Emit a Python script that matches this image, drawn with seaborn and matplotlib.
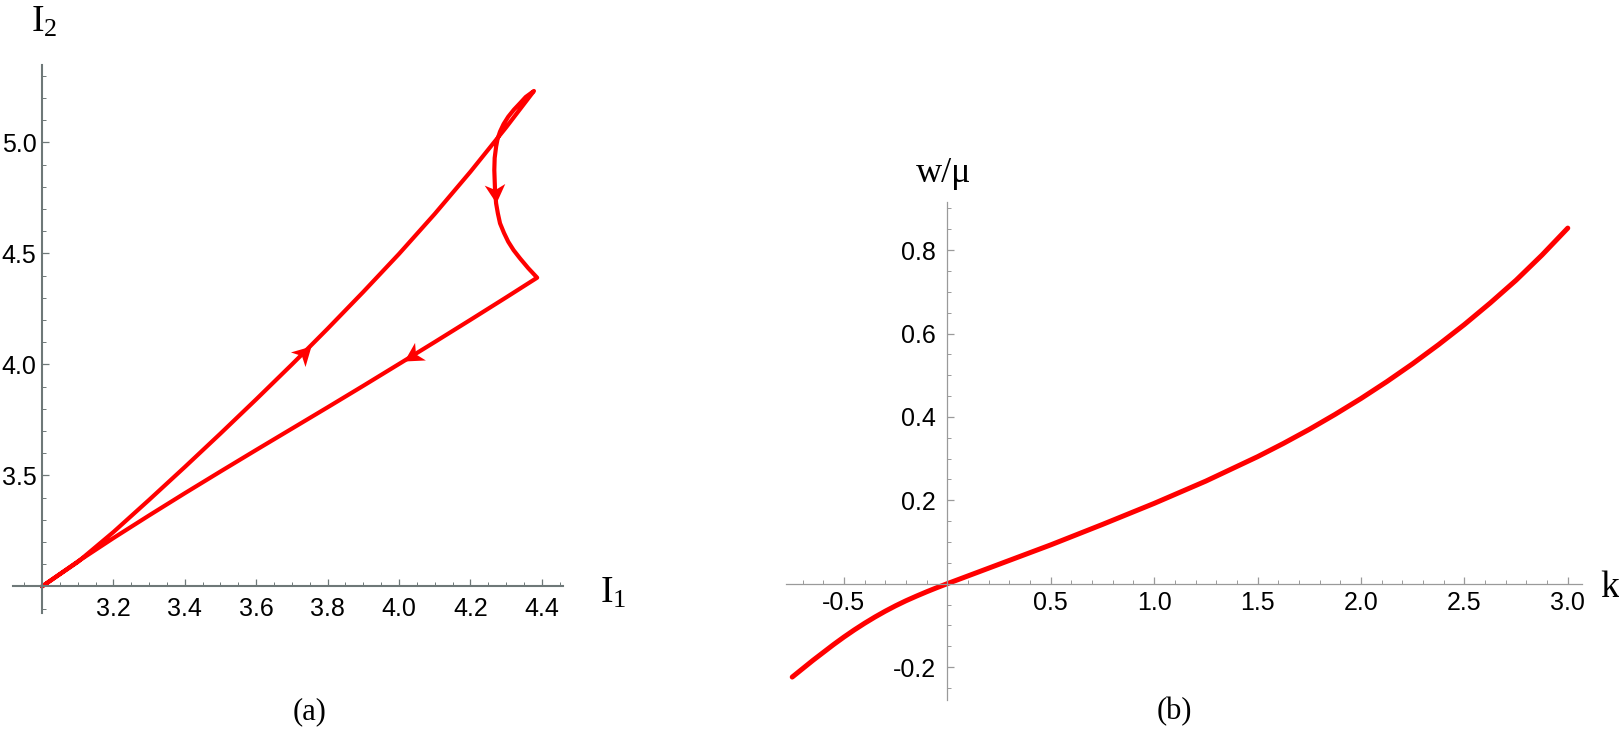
"""Two-panel figure: (a) invariant loop in the (I1, I2) plane, (b) w/mu against k."""
import math

import matplotlib
matplotlib.use("Agg")
import matplotlib.pyplot as plt
from matplotlib.markers import MarkerStyle
from matplotlib.path import Path
from matplotlib.ticker import FixedLocator, MultipleLocator, FormatStrFormatter
from matplotlib.transforms import Affine2D
import pandas as pd
import seaborn as sns

# ---- panel (a): values ----
# outgoing branch, origin -> upper tip
OUT_I1 = [3.0, 3.1, 3.2, 3.3, 3.4, 3.5, 3.6, 3.7, 3.753, 3.8, 3.9, 4.0, 4.1, 4.2, 4.3, 4.378]
OUT_I2 = [3.0, 3.110, 3.245, 3.390, 3.538, 3.689, 3.843, 4.000, 4.085, 4.161, 4.327, 4.498,
          4.678, 4.868, 5.068, 5.232]
# return branch, tip -> corner
RET_I1 = [4.378, 4.355, 4.339, 4.322, 4.306, 4.293, 4.283, 4.276, 4.272, 4.268, 4.267,
          4.268, 4.269, 4.272, 4.277, 4.283, 4.294, 4.306, 4.321, 4.339, 4.362, 4.387]
RET_I2 = [5.232, 5.205, 5.177, 5.148, 5.116, 5.083, 5.049, 5.015, 4.981, 4.930, 4.876,
          4.830, 4.786, 4.726, 4.680, 4.636, 4.593, 4.553, 4.515, 4.478, 4.434, 4.391]
# lower branch, corner -> origin
LOW_I1 = [4.387, 4.3, 4.2, 4.1, 4.013, 3.9, 3.8, 3.7, 3.6, 3.5, 3.4, 3.3, 3.2, 3.1, 3.0]
LOW_I2 = [4.391, 4.302, 4.201, 4.101, 4.015, 3.904, 3.807, 3.711, 3.615, 3.518, 3.420,
          3.320, 3.218, 3.112, 3.0]
# index of the vertex each arrowhead sits on
ARROW_AT = {"out": 8, "ret": 13, "low": 4}

A_XTICKS = [3.2, 3.4, 3.6, 3.8, 4.0, 4.2, 4.4]
A_YTICKS = [3.5, 4.0, 4.5, 5.0]

# ---- panel (b) ----
K = [-0.75, -0.7, -0.65, -0.6, -0.55, -0.5, -0.45, -0.4, -0.35, -0.3, -0.25, -0.2, -0.15,
     -0.1, -0.05, 0.0, 0.25, 0.5, 0.75, 1.0, 1.25, 1.5, 1.625, 1.75, 1.875, 2.0, 2.125,
     2.25, 2.375, 2.5, 2.625, 2.75, 2.875, 3.0]
W_MU = [-0.224, -0.204, -0.184, -0.165, -0.146, -0.128, -0.111, -0.095, -0.080, -0.066,
        -0.053, -0.041, -0.030, -0.0195, -0.0095, 0.0, 0.0465, 0.093, 0.142, 0.1925,
        0.246, 0.3045, 0.3363, 0.370, 0.406, 0.444, 0.4845, 0.5275, 0.5732, 0.6215,
        0.6732, 0.7278, 0.788, 0.8528]

B_XTICKS = [-0.5, 0.5, 1.0, 1.5, 2.0, 2.5, 3.0]
B_YTICKS = [-0.2, 0.2, 0.4, 0.6, 0.8]

RED = "#ff0000"
W, H = 1619, 743

sns.set_theme(style="white")
plt.rcParams["font.family"] = ["Liberation Sans", "DejaVu Sans"]
plt.rcParams["axes.unicode_minus"] = False
plt.rcParams["mathtext.fontset"] = "custom"
plt.rcParams["mathtext.rm"] = "Liberation Serif"
plt.rcParams["mathtext.it"] = "Liberation Serif:italic"

# swept-back arrowhead, tip at the origin pointing along +x
HEAD = Path([(0, 0), (-1.0, 0.55), (-0.72, 0), (-1.0, -0.55), (0, 0)],
            [Path.MOVETO, Path.LINETO, Path.LINETO, Path.LINETO, Path.CLOSEPOLY])


def math_axes(ax, x0, y0, color, lw, xmin, ymin, pad_x, pad_y):
    """Mathematica-style axes crossing at (x0, y0), ticks pointing inward."""
    ax.set_facecolor("none")
    for s in ("top", "right"):
        ax.spines[s].set_visible(False)
    ax.spines["left"].set_position(("data", x0))
    ax.spines["bottom"].set_position(("data", y0))
    for s in ("left", "bottom"):
        ax.spines[s].set_color(color)
        ax.spines[s].set_linewidth(lw)
    ax.xaxis.set_minor_locator(MultipleLocator(xmin))
    ax.yaxis.set_minor_locator(MultipleLocator(ymin))
    ax.tick_params(which="both", direction="in", color=color, labelcolor="black",
                   labelsize=18, bottom=True, left=True)
    ax.tick_params(which="major", length=5, width=0.9)
    ax.tick_params(which="minor", length=3, width=0.7)
    ax.tick_params(axis="x", which="major", pad=pad_x)
    ax.tick_params(axis="y", which="major", pad=pad_y)
    ax.set_xlabel("")
    ax.set_ylabel("")
    ax.grid(False)


def put(fig, x, y, s, **kw):
    fig.text(x / W, 1 - y / H, s, **kw)


fig = plt.figure(figsize=(W / 100, H / 100), dpi=100)

# ---------------- (a) ----------------
ax_a = fig.add_axes([0.00828, 0.1748, 0.3396, 0.738])
loop = pd.DataFrame({
    "I1": OUT_I1 + RET_I1[1:] + LOW_I1[1:],
    "I2": OUT_I2 + RET_I2[1:] + LOW_I2[1:],
})
sns.lineplot(data=loop, x="I1", y="I2", sort=False, estimator=None, color=RED,
             lw=3.0, ax=ax_a)
ax_a.set_xlim(2.92, 4.46)
ax_a.set_ylim(2.88, 5.35)

branches = {"out": (OUT_I1, OUT_I2), "ret": (RET_I1, RET_I2), "low": (LOW_I1, LOW_I2)}
for name, i in ARROW_AT.items():
    xs, ys = branches[name]
    p0 = ax_a.transData.transform((xs[i - 1], ys[i - 1]))
    p1 = ax_a.transData.transform((xs[i], ys[i]))
    ang = math.atan2(p1[1] - p0[1], p1[0] - p0[0])
    mk = MarkerStyle(HEAD, transform=Affine2D().rotate(ang))
    ax_a.plot([xs[i]], [ys[i]], marker=mk, ms=27, color=RED, mew=0, ls="none")

ax_a.xaxis.set_major_locator(FixedLocator(A_XTICKS))
ax_a.yaxis.set_major_locator(FixedLocator(A_YTICKS))
ax_a.xaxis.set_major_formatter(FormatStrFormatter("%.1f"))
ax_a.yaxis.set_major_formatter(FormatStrFormatter("%.1f"))
math_axes(ax_a, 3.0, 3.0, "#6e7878", 1.5, 0.05, 0.1, pad_x=7.5, pad_y=4.0)

# ---------------- (b) ----------------
ax_b = fig.add_axes([0.4855, 0.0579, 0.4918, 0.670])
sns.lineplot(x=K, y=W_MU, color=RED, lw=3.6, ax=ax_b)
ax_b.set_xlim(-0.78, 3.07)
ax_b.set_ylim(-0.279, 0.915)
ax_b.xaxis.set_major_locator(FixedLocator(B_XTICKS))
ax_b.yaxis.set_major_locator(FixedLocator(B_YTICKS))
ax_b.xaxis.set_major_formatter(FormatStrFormatter("%.1f"))
ax_b.yaxis.set_major_formatter(FormatStrFormatter("%.1f"))
math_axes(ax_b, 0.0, 0.0, "#9a9a9a", 0.9, 0.1, 0.05, pad_x=5.5, pad_y=8.0)

# ---------------- labels ----------------
serif = dict(family=["Liberation Serif", "DejaVu Serif"], color="black")
put(fig, 600, 603, r"$\mathrm{I}_{1}$", fontsize=27, ha="left", va="baseline", **serif)
put(fig, 31, 32, r"$\mathrm{I}_{2}$", fontsize=27, ha="left", va="baseline", **serif)
put(fig, 1600, 597, "k", fontsize=27, ha="left", va="baseline", **serif)
put(fig, 916, 182, "w/\u03bc", fontsize=26, ha="left", va="baseline", **serif)
put(fig, 310, 712, "(a)", fontsize=22, ha="center", va="center", **serif)
put(fig, 1174, 712, "(b)", fontsize=22, ha="center", va="center", **serif)

fig.savefig("out.png", dpi=100)
plt.close(fig)
